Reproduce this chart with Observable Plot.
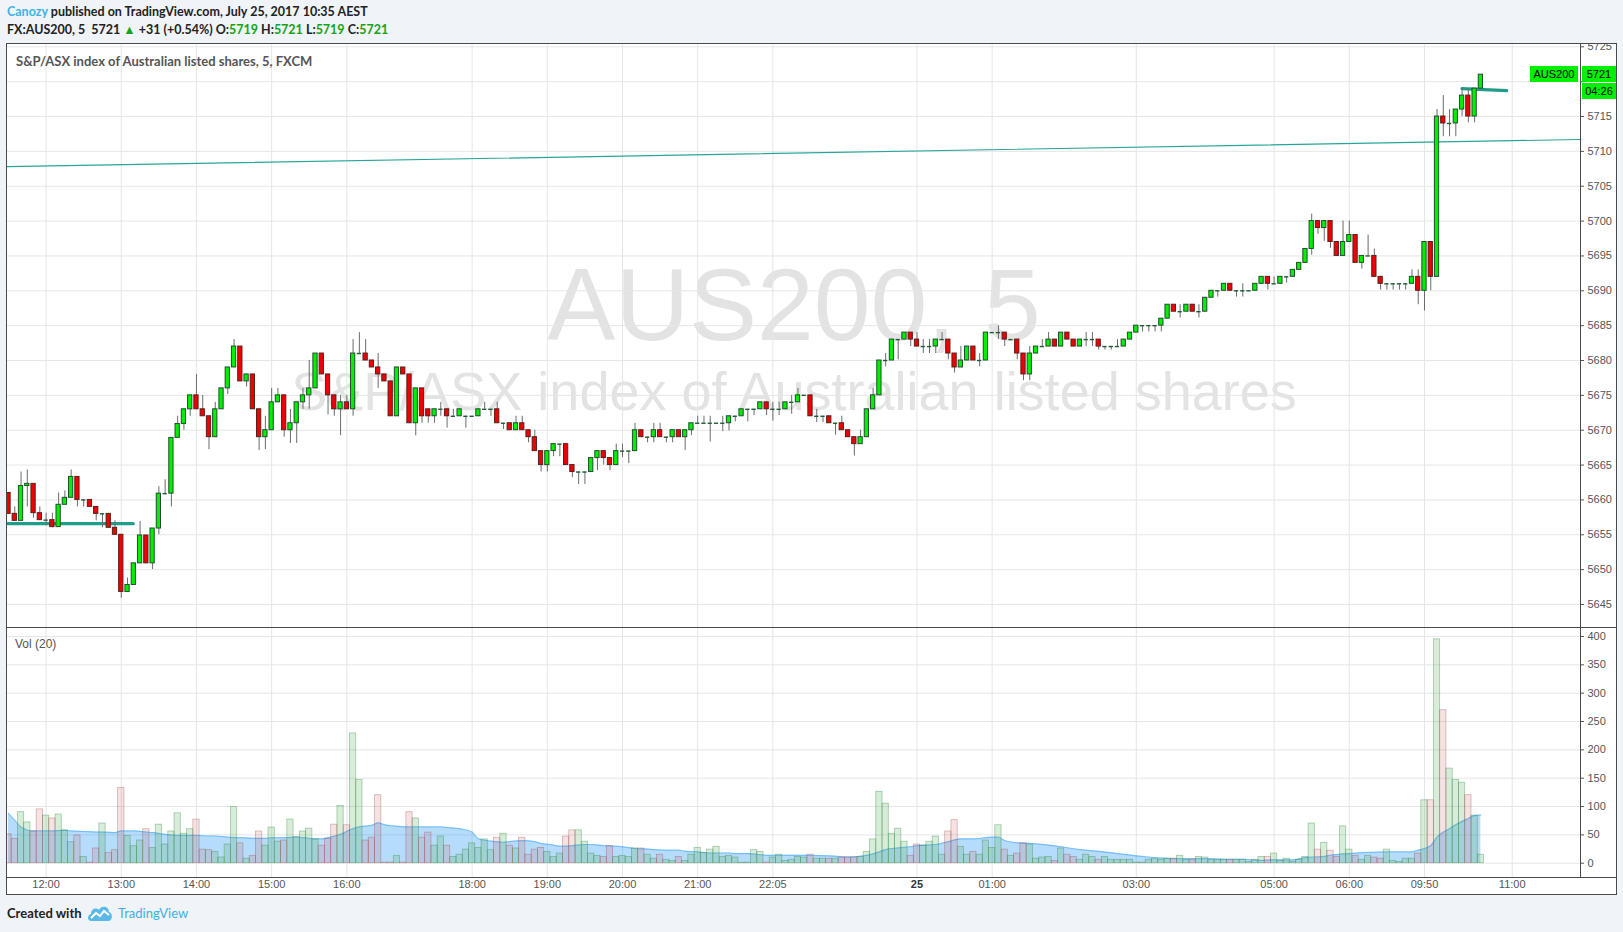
<!DOCTYPE html>
<html>
<head>
<meta charset="utf-8">
<script src="https://cdn.jsdelivr.net/npm/d3@7"></script>
<script src="https://cdn.jsdelivr.net/npm/@observablehq/plot@0.6"></script>
<style>
  body { margin: 0; background: #f0f3f7; width: 1623px; height: 932px; position: relative; overflow: hidden; font-family: Lato, "Open Sans", sans-serif; }
  .abs { position: absolute; white-space: nowrap; }
  #frame { left: 6px; top: 43px; width: 1611px; height: 852px; box-sizing: border-box; border: 1px solid #4a4a4a; background: #fff; }
  .hl { position: absolute; background: #4a4a4a; height: 1px; }
  .vl { position: absolute; background: #4a4a4a; width: 1px; }
  #h1 { left: 7px; top: 4px; font-size: 12.5px; font-weight: 700; color: #222; }
  #h2 { left: 7px; top: 22px; font-size: 12.5px; font-weight: 700; color: #222; }
  .up { color: #17a317; }
  .blue { color: #3cb4e6; }
  #legend { left: 16px; top: 53px; font-size: 13px; font-weight: 700; color: #555; }
  #vollabel { left: 15px; top: 637px; font-size: 12px; color: #555; font-family: "Liberation Sans", sans-serif; }
  .tag { position: absolute; background: #00f000; color: #000; font: 11px "Liberation Sans", sans-serif; line-height: 16px; height: 16px; text-align: center; }
  #foot { left: 7px; top: 905px; font-size: 13px; font-weight: 700; color: #222; }
  #tv { left: 118px; top: 905px; font-size: 13px; color: #3cb0e2; }
  svg.plot { overflow: hidden; }
</style>
</head>
<body>
<div id="h1" class="abs"><span class="blue">Canozy</span> published on TradingView.com, July 25, 2017 10:35 AEST</div>
<div id="h2" class="abs">FX:AUS200, 5&nbsp; 5721 <span class="up">▲</span> +31 (+0.54%) O:<span class="up">5719</span> H:<span class="up">5721</span> L:<span class="up">5719</span> C:<span class="up">5721</span></div>
<div id="frame" class="abs"></div>
<div id="price" class="abs" style="left:7px;top:44px;"></div>
<div id="vol" class="abs" style="left:7px;top:628px;"></div>
<div class="hl" style="left:6px;top:627px;width:1611px;"></div>
<div class="hl" style="left:6px;top:877px;width:1611px;"></div>
<div class="vl" style="left:1580px;top:43px;height:834px;"></div>
<div id="legend" class="abs">S&amp;P/ASX index of Australian listed shares, 5, FXCM</div>
<div id="vollabel" class="abs">Vol (20)</div>
<div id="foot" class="abs">Created with</div>
<svg class="abs" style="left:87px;top:904px;" width="26" height="18" viewBox="0 0 26 18">
  <path d="M4 17 C0 17 0 11 4 10 C4 5 9 3 12 6 C14 1 22 2 22 8 C26 9 26 17 21 17 Z" fill="#5ab9e8"/>
  <polyline points="4,14 9,9 13,12 17,7 22,11" fill="none" stroke="#fff" stroke-width="2"/>
</svg>
<div id="tv" class="abs">TradingView</div>

<script>
// bar index 0 = first visible 5-minute bar (11:30), last = 10:35
const open = [
5661,5658,5657,5662,5662.3,5658.1,5657.1,5657.1,5656.1,5659.3,
5660.3,5663.3,5660,5660,5659,5658,5658,5656,5655,5646.8,
5647.8,5650.9,5654.9,5650.9,5655.9,5660.9,5660.9,5668.9,5670.9,5673,
5675,5673,5672,5669,5673,5676,5679,5682,5677,5678,
5673,5669,5670,5674,5675,5670,5671,5674,5675,5676,
5681,5678,5675,5673,5674,5673,5681,5681,5680,5679,
5678,5677,5672,5679,5678,5671,5676,5673,5672,5673,
5673,5672,5672,5672,5672,5672,5673,5673,5673,5671,
5671,5670,5671,5670,5669,5667,5665,5667,5668,5668,
5665,5664,5664,5664,5666,5667,5666,5665,5667,5667,
5667,5670,5669,5669,5670,5669,5669,5670,5669,5670,
5671,5671,5671,5671,5671,5671,5672,5672,5673,5673,
5673,5674,5673,5673,5673,5674,5674,5675,5675,5672,
5672,5672,5671,5671,5670,5669,5668,5669,5673,5675,
5680,5680,5683,5683,5684,5683,5682,5682,5682,5683,
5683,5681,5679,5680,5682,5680,5680,5684,5684,5684,
5683,5683,5681,5678,5681,5682,5682,5683,5682,5684,
5683,5682,5683,5683,5683,5682,5682,5682,5682,5683,
5684,5685,5685,5685,5685,5686,5688,5687,5687,5688,
5687,5687,5689,5690,5690,5691,5690,5690,5690,5690,
5691,5692,5691,5691,5692,5692,5693,5694,5696,5700,
5699,5700,5697,5695,5697,5698,5694,5695,5695,5692,
5691,5691,5691,5691,5691,5692,5690,5697,5692,5715,
5714,5714,5716,5718,5715,5719];

const close = [
5658,5657,5662,5662.3,5658.1,5657.1,5657.1,5656.1,5659.3,5660.3,
5663.3,5660,5660,5659,5658,5658,5656,5655,5646.8,5647.8,
5650.9,5654.9,5650.9,5655.9,5660.9,5660.9,5668.9,5670.9,5673,5675,
5673,5672,5669,5673,5676,5679,5682,5677,5678,5673,
5669,5670,5674,5675,5670,5671,5674,5675,5676,5681,
5678,5675,5673,5674,5673,5681,5681,5680,5679,5678,
5677,5672,5679,5678,5671,5676,5672,5672,5673,5673,
5672,5672,5673,5672,5672,5673,5673,5673,5671,5671,
5670,5671,5670,5669,5667,5665,5667,5668,5668,5665,
5664,5664,5664,5666,5667,5666,5665,5667,5667,5667,
5670,5669,5669,5670,5669,5669,5670,5669,5670,5671,
5671,5671,5671,5671,5671,5672,5672,5673,5673,5673,
5674,5673,5673,5673,5674,5674,5675,5675,5672,5672,
5672,5671,5671,5670,5669,5668,5669,5673,5675,5680,
5680,5683,5683,5684,5683,5682,5682,5682,5683,5683,
5681,5679,5680,5682,5680,5680,5684,5684,5684,5683,
5683,5681,5678,5681,5682,5682,5683,5682,5684,5683,
5682,5683,5683,5683,5682,5682,5682,5682,5683,5684,
5685,5685,5685,5685,5686,5688,5687,5687,5688,5687,
5687,5689,5690,5690,5691,5690,5690,5690,5690,5691,
5692,5691,5691,5692,5692,5693,5694,5696,5700,5699,
5700,5697,5695,5697,5698,5694,5695,5695,5692,5691,
5691,5691,5691,5691,5692,5690,5697,5692,5715,5714,
5714,5716,5718,5715,5719,5721];

const high = [
5661,5659,5664,5664.3,5662.3,5659,5658.1,5658.1,5661,5661.3,
5664.3,5663.3,5660,5660,5659,5658,5658,5657,5655,5648.8,
5650.9,5656.9,5654.9,5655.9,5661.9,5662.9,5668.9,5672,5673,5675,
5678,5675,5672,5674,5676,5679,5683,5682,5678,5678,
5673,5672,5676,5676,5675,5673,5674,5676,5680,5681,
5681,5678,5675,5675,5675,5683,5684,5683,5680,5681,
5678,5677,5679,5679,5678,5676,5676,5673,5673,5674,
5673,5673,5673,5672,5672,5673,5674,5673,5674,5671,
5671,5672,5672,5670,5670,5667,5667,5668,5668,5668,
5665,5664,5664,5666,5667,5667,5666,5668,5668,5667,
5671,5670,5669,5671,5671,5669,5670,5670,5670,5671,
5672,5672,5672,5671,5672,5672,5672,5673,5673,5673,
5674,5674,5674,5674,5674,5675,5676,5675,5675,5673,
5672,5672,5671,5672,5670,5669,5670,5673,5676,5680,
5681,5683,5683,5684,5684,5684,5683,5683,5683,5684,
5683,5681,5682,5682,5682,5681,5684,5684,5685,5684,
5683,5683,5681,5682,5682,5683,5684,5683,5684,5684,
5683,5683,5684,5684,5683,5682,5682,5683,5683,5684,
5685,5685,5685,5685,5686,5688,5688,5688,5688,5688,
5688,5689,5690,5690,5691,5691,5690,5691,5690,5691,
5692,5692,5692,5692,5692,5693,5694,5696,5701,5700,
5700,5700,5697,5700,5700,5698,5695,5698,5696,5692,
5691,5691,5691,5691,5693,5693,5697,5697,5716,5718,
5716,5716,5719,5719,5719,5721];

const low = [
5658,5657,5657,5659,5657.4,5657.1,5656.3,5656,5656.1,5659.3,
5660.3,5659,5659,5659,5657,5656,5656,5655,5645.9,5646.8,
5647.8,5650.9,5650.9,5650,5655,5660.9,5659,5668.9,5670,5672,
5673,5672,5667.2,5669,5673,5675.1,5679,5677,5676.2,5673,
5667.1,5667.2,5670,5674,5669,5668.1,5668.1,5673,5673,5676,
5678,5672.2,5672,5669.2,5673,5672,5681,5680,5679,5676,
5677,5672,5672,5678,5671,5669.2,5671,5671,5671,5672,
5670.3,5672,5672,5670.3,5672,5672,5673,5672,5671,5670.1,
5670,5670,5670,5668.2,5667,5664,5664,5666.2,5666.2,5665,
5663.2,5662.2,5662.2,5664,5664.2,5665,5664.2,5665,5666.1,5665.2,
5667,5669,5668.2,5668.2,5669,5668.2,5668.2,5669,5667.1,5669.2,
5671,5671,5668.3,5671,5669.8,5669.9,5671.2,5672,5671.2,5672.1,
5673,5672.1,5671.3,5672.1,5673,5672.3,5674,5675,5672,5671.1,
5671.1,5671,5669.3,5670,5669,5666.3,5668,5669,5673,5675,
5679.1,5680,5680.1,5683,5682,5682,5681,5681,5681,5683,
5680.1,5678.2,5679,5680,5680,5679.1,5680,5684,5683,5682,
5683,5680.1,5677.1,5677.1,5681,5682,5682,5682,5682,5683,
5682,5682,5682,5682,5681.5,5681.5,5681.5,5682,5682,5683,
5684,5684.1,5684.1,5684.1,5684.1,5686,5687,5686.1,5687,5687,
5686.1,5687,5689,5689.1,5690,5690,5689.1,5689.1,5690,5690,
5691,5690.1,5691,5691,5691.1,5692,5693,5694,5695.1,5698.1,
5697.1,5696.1,5695,5695,5697,5694,5693.1,5695,5692,5690.1,
5690.1,5690.1,5690.1,5690.1,5691,5688,5687.1,5690,5692,5712.1,
5712.1,5712.1,5715,5714.1,5714.1,5719];

const volume = [
51,43,90,72,56,95,84,79,86,58,
37,49,11,1,26,70,18,23,133,48,
30,40,60,27,68,33,56,88,52,60,
77,24,23,20,10,33,99,35,8,13,
56,31,63,38,40,77,46,56,61,42,
31,43,68,101,67,229,147,40,45,120,
1,1,13,1,90,79,45,54,31,47,
31,11,15,24,35,27,42,23,45,52,
31,26,45,15,24,27,20,11,17,47,
58,58,38,17,13,11,30,11,13,11,
26,26,15,8,15,6,4,11,4,15,
27,18,24,29,11,13,10,1,1,23,
20,1,10,15,4,6,11,10,15,8,
8,8,8,10,10,10,11,20,42,126,
105,52,61,38,13,33,31,38,47,15,
56,76,29,15,20,15,40,27,67,24,
13,17,35,33,8,10,11,4,26,15,
11,6,15,11,6,11,6,6,6,6,
1,1,6,8,6,8,8,13,6,6,
11,10,6,6,6,6,6,6,2,6,
11,11,17,4,8,2,6,11,70,24,
36,22,11,65,24,13,6,13,10,8,
24,4,2,8,8,17,111,111,395,270,
167,147,142,120,84,15];

// Vol (20) moving average
const maBar = [0,1,2,4,5,7,9,10,12,14,15,17,18,20,22,23,25,27,28,30,32,33,35,37,39,41,42,44,46,47,49,50,51,53,55,56,58,59,60,62,64,65,67,69,70,72,74,75,77,79,80,82,84,85,87,88,90,92,93,95,97,98,100,102,103,105,107,108,110,112,113,115,116,118,120,121,123,125,126,128,131,134,137,139,140,142,144,145,148,150,152,154,157,158,159,161,163,166,168,171,174,177,181,184,187,191,194,197,200,202,205,207,210,211,214,217,220,224,225,227,228,230,231,233,234,235];
const maVol = [88,76,64,57,57,57,58,57,56,55,55,54,57,57,55,54,51,49,49,49,48,48,46,45,44,44,45,45,46,45,43,43,45,51,61,64,67,71,68,65,64,64,64,64,63,61,55,43,39,37,38,40,38,35,32,30,31,33,33,31,30,29,26,25,24,23,23,21,20,18,18,18,17,17,15,14,14,14,14,14,13,11,14,20,24,27,29,31,33,38,43,43,46,46,40,36,35,32,29,24,21,17,12,9,8,8,7,7,5,6,6,10,12,14,17,19,20,20,23,31,46,61,68,79,84,85];

const timeBars = [6,18,30,42,54,74,86,98,110,122,145,157,180,202,214,226,240];
const timeLabels = ["12:00","13:00","14:00","15:00","16:00","18:00","19:00","20:00","21:00","22:05","25","01:00","03:00","05:00","06:00","09:50","11:00"];
const priceTicks = [5645,5650,5655,5660,5665,5670,5675,5680,5685,5690,5695,5700,5705,5710,5715,5720,5725];
const volTicks = [0,50,100,150,200,250,300,350,400];

// drawings on the chart: sloped trend line and two horizontal rays
const trendBar = [-0.2, 250.9], trendPrice = [5707.8, 5711.7];
const rayLowBar = [-0.2, 19.9], rayLowPrice = [5656.6, 5656.6];
const rayHighBar = [232, 239.1], rayHighPrice = [5719, 5718.7];

const bars = open.map((o, i) => ({i, o, h: high[i], l: low[i], c: close[i], v: volume[i]}));
const rising = bars.filter(d => d.c > d.o);
const falling = bars.filter(d => d.c < d.o);
const doji = bars.filter(d => d.c === d.o);
const ma = maBar.map((b, k) => ({i: b, v: maVol[k]}));
const ticks = timeBars.map((b, k) => ({i: b, label: timeLabels[k]}));
const line = (bs, ps) => bs.map((b, k) => ({i: b, p: ps[k]}));
const last = close[close.length - 1];

const xDomain = [-0.16, 250.9];
const half = 0.34;
const font = {fontFamily: "'Liberation Sans', Arial, sans-serif", fontSize: "11px", color: "#555", background: "transparent"};

const priceChart = Plot.plot({
  width: 1609, height: 583,
  marginLeft: 0, marginRight: 36, marginTop: 0, marginBottom: 0,
  style: font,
  x: {domain: xDomain, axis: null},
  // the label under the last-price tag is hidden, as in the original
  y: {domain: [5641.7, 5725.33], axis: "right", ticks: priceTicks, tickSize: 3, tickPadding: 4, label: null,
      tickFormat: d => Math.abs(d - last) < 2.5 ? "" : String(d)},
  marks: [
    Plot.text(["AUS200, 5"], {text: d => d, frameAnchor: "middle", dy: -29, fontSize: 102, fill: "#e3e3e3"}),
    Plot.text(["S&P/ASX index of Australian listed shares"], {text: d => d, frameAnchor: "middle", dy: 57, fontSize: 54, fill: "#e3e3e3"}),
    Plot.ruleY(priceTicks, {stroke: "#e6e6e6"}),
    Plot.ruleX(timeBars, {stroke: "#e6e6e6"}),
    Plot.line(line(trendBar, trendPrice), {x: "i", y: "p", stroke: "#26a69a", strokeWidth: 1.2}),
    Plot.line(line(rayLowBar, rayLowPrice), {x: "i", y: "p", stroke: "#1f9d89", strokeWidth: 3.3}),
    Plot.line(line(rayHighBar, rayHighPrice), {x: "i", y: "p", stroke: "#1f9d89", strokeWidth: 3.3}),
    Plot.ruleX(bars, {x: "i", y1: "l", y2: "h", stroke: "#6b6b6b", strokeWidth: 1}),
    Plot.rect(rising, {x1: d => d.i - half, x2: d => d.i + half, y1: "o", y2: "c", fill: "#00f000", stroke: "#1f4f2e", strokeWidth: 1}),
    Plot.rect(falling, {x1: d => d.i - half, x2: d => d.i + half, y1: "o", y2: "c", fill: "#f00000", stroke: "#5a1e1e", strokeWidth: 1}),
    Plot.ruleY(doji, {y: "o", x1: d => d.i - half, x2: d => d.i + half, stroke: "#1f5a36", strokeWidth: 1.4})
  ]
});
document.getElementById("price").append(priceChart);

const volChart = Plot.plot({
  width: 1609, height: 267,
  marginLeft: 0, marginRight: 36, marginTop: 0, marginBottom: 18,
  style: font,
  x: {domain: xDomain, axis: null},
  y: {domain: [-25.2, 414.1], axis: "right", ticks: volTicks, tickSize: 3, tickPadding: 4, label: null, tickFormat: d => String(d)},
  marks: [
    Plot.ruleY(volTicks, {stroke: "#e6e6e6"}),
    Plot.ruleX(timeBars, {stroke: "#e6e6e6"}),
    Plot.areaY(ma, {x: "i", y: "v", fill: "rgba(33,150,243,0.33)", curve: "monotone-x"}),
    Plot.line(ma, {x: "i", y: "v", stroke: "rgba(33,150,243,0.45)", strokeWidth: 1.2, curve: "monotone-x"}),
    Plot.rect(bars.filter(d => d.c >= d.o), {x1: d => d.i - 0.5, x2: d => d.i + 0.5, y1: 0, y2: "v", fill: "rgba(76,175,80,0.22)", stroke: "rgba(60,140,70,0.45)", strokeWidth: 0.8}),
    Plot.rect(bars.filter(d => d.c < d.o), {x1: d => d.i - 0.5, x2: d => d.i + 0.5, y1: 0, y2: "v", fill: "rgba(190,80,80,0.16)", stroke: "rgba(160,70,70,0.4)", strokeWidth: 0.8}),
    Plot.text(ticks.filter(d => d.label !== "25"), {x: "i", text: "label", frameAnchor: "bottom", dy: 10, fill: "#555"}),
    Plot.text(ticks.filter(d => d.label === "25"), {x: "i", text: "label", frameAnchor: "bottom", dy: 10, fill: "#333", fontWeight: "bold"})
  ]
});
document.getElementById("vol").append(volChart);

// price tags on the right, placed with the chart's own y scale
const yTag = 44 + priceChart.scale("y").apply(last);
function tag(text, left, top, width) {
  const el = document.createElement("div");
  el.className = "tag";
  el.textContent = text;
  el.style.left = left + "px";
  el.style.top = top + "px";
  el.style.width = width + "px";
  document.body.append(el);
}
tag("AUS200", 1530, Math.round(yTag - 8), 48);
tag(String(last), 1582, Math.round(yTag - 8), 34);
tag("04:26", 1582, Math.round(yTag + 9), 34);
</script>
</body>
</html>
